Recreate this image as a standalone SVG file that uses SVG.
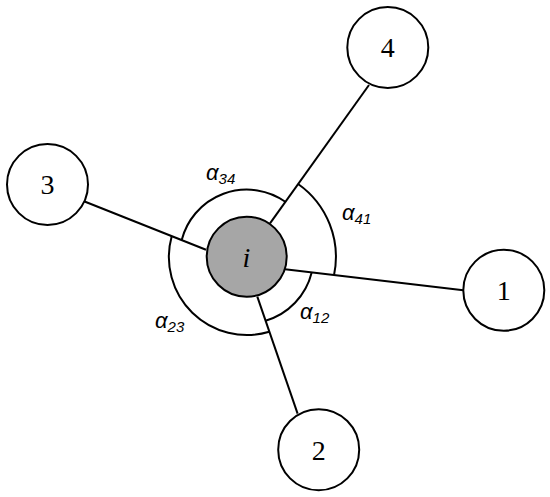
<svg xmlns="http://www.w3.org/2000/svg" width="550" height="497" viewBox="0 0 550 497">
<style>
.edge{stroke:#000;stroke-width:2;fill:none}
.node{fill:#fff;stroke:#000;stroke-width:2}
.num{font-family:"Liberation Serif",serif;font-size:28px;fill:#000;text-anchor:middle}
.lbl{font-family:"Liberation Sans",sans-serif;font-style:italic;font-size:22px;fill:#000}
.sub{font-size:15px}
</style>
<rect width="550" height="497" fill="#fff"/>
<g id="connectors">
<line class="edge" x1="285" y1="269.3" x2="463.3" y2="290.2"/>
<line class="edge" x1="257.3" y1="296.7" x2="297.6" y2="413.6"/>
<line class="edge" x1="206" y1="249.8" x2="83.3" y2="201"/>
<line class="edge" x1="270" y1="223.3" x2="369" y2="85"/>
</g>
<g id="arcs">
<path class="edge" d="M298.1,184 A89.3,89.3 0 0 1 334,275.2"/>
<path class="edge" d="M285.3,201.7 A67.2,67.2 0 0 0 181.7,240"/>
<path class="edge" d="M171.7,236.2 A78,78 0 0 0 269.3,331.7"/>
<path class="edge" d="M311.7,272.5 A67,67 0 0 1 265.6,320.7"/>
</g>
<g id="node-i">
<circle cx="246.7" cy="256.7" r="40" fill="#a6a6a6" stroke="#000" stroke-width="2"/>
<text x="246.5" y="267" font-family="Liberation Serif,serif" font-style="italic" font-size="28" text-anchor="middle">i</text>
</g>
<g id="node-1">
<circle class="node" cx="503.8" cy="290.3" r="40.5"/>
<text class="num" x="503.8" y="300">1</text>
</g>
<g id="node-2">
<circle class="node" cx="318.7" cy="449.7" r="40.5"/>
<text class="num" x="318.7" y="459.5">2</text>
</g>
<g id="node-3">
<circle class="node" cx="47.5" cy="184.5" r="40.5"/>
<text class="num" x="47.5" y="194">3</text>
</g>
<g id="node-4">
<circle class="node" cx="387.8" cy="47.5" r="40.5"/>
<text class="num" x="387.8" y="57">4</text>
</g>
<g id="labels">
<text class="lbl" x="206" y="180">α<tspan class="sub" dy="4">34</tspan></text>
<text class="lbl" x="342" y="220">α<tspan class="sub" dy="4">41</tspan></text>
<text class="lbl" x="155" y="328">α<tspan class="sub" dy="4">23</tspan></text>
<text class="lbl" x="300" y="319">α<tspan class="sub" dy="4">12</tspan></text>
</g>
</svg>
